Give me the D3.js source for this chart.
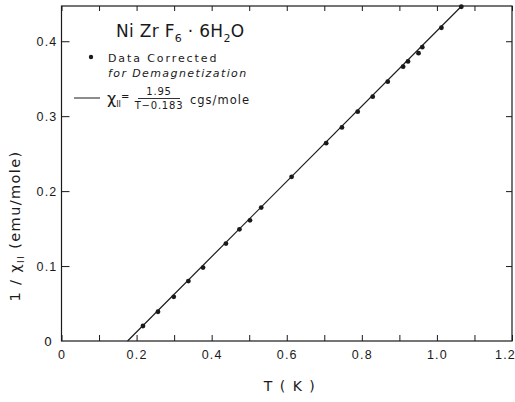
<!DOCTYPE html>
<html>
    <head>
        <meta charset="utf-8">
        <title>NiZrF6 susceptibility</title>
        <style>
body {
    margin: 0;
    background-color: white;
}

svg {
    font-family: 'DejaVu Sans', sans-serif;
}

text {
    fill: #1a1a1a;
}

.axis path {
    display: none;
}

.axis line {
    stroke: #1a1a1a;
    stroke-width: 1;
}

.axis text {
    font-size: 12.5px;
    letter-spacing: 1.2px;
}

</style>
        <script src="https://cdn.jsdelivr.net/npm/d3@7"></script>
    </head>
    <body>
        <script>
var tempK  = [0.217, 0.257, 0.299, 0.338, 0.377, 0.438, 0.474, 0.502, 0.532, 0.613,
              0.705, 0.747, 0.789, 0.829, 0.869, 0.910, 0.923, 0.951, 0.961, 1.012, 1.065];
var invChi = [0.020, 0.039, 0.059, 0.080, 0.098, 0.130, 0.149, 0.161, 0.178, 0.219,
              0.264, 0.285, 0.306, 0.326, 0.346, 0.366, 0.373, 0.384, 0.392, 0.418, 0.446];

// fitted curve ends, as drawn
var fitT = [0.176, 1.066];
var fitY = [0.0, 0.447];

var xTicks = [0, 0.1, 0.2, 0.3, 0.4, 0.5, 0.6, 0.7, 0.8, 0.9, 1.0, 1.1, 1.2];
var xLabels = ["0", "", "0.2", "", "0.4", "", "0.6", "", "0.8", "", "1.0", "", "1.2"];
var yTicks = [0.1, 0.2, 0.3, 0.4];
var yLabels = ["0.1", "0.2", "0.3", "0.4"];

var width = 515,
    height = 402;

var plotLeft = 61.5, plotRight = 512, plotTop = 6, plotBottom = 341;

var svg = d3.select('body')
    .append('svg')
    .attr('width', width)
    .attr('height', height);

var x = d3.scaleLinear().domain([0, 1.2]).range([plotLeft, plotRight]);
var y = d3.scaleLinear().domain([0, 0.447]).range([plotBottom, plotTop]);

// frame
svg.append('rect')
    .attr('x', plotLeft)
    .attr('y', plotTop)
    .attr('width', plotRight - plotLeft)
    .attr('height', plotBottom - plotTop)
    .style('fill', 'none')
    .style('stroke', '#1a1a1a')
    .style('stroke-width', 1.2);

var xAxis = svg.append('g')
    .attr('class', 'axis')
    .attr('transform', 'translate(0,' + plotBottom + ')')
    .call(d3.axisBottom(x)
        .tickValues(xTicks)
        .tickSize(-6)
        .tickPadding(9)
        .tickFormat(function (d, i) { return xLabels[i]; }));

// last label runs into the page edge, pull it in a little
xAxis.selectAll('.tick text')
    .filter(function (d) { return d > 1.15; })
    .attr('dx', -7);

svg.append('g')
    .attr('class', 'axis')
    .attr('transform', 'translate(0,' + plotTop + ')')
    .call(d3.axisTop(x)
        .tickValues(xTicks)
        .tickSize(-5)
        .tickFormat(''));

svg.append('g')
    .attr('class', 'axis')
    .attr('transform', 'translate(' + plotLeft + ',0)')
    .call(d3.axisLeft(y)
        .tickValues(yTicks)
        .tickSize(-8)
        .tickPadding(4)
        .tickFormat(function (d, i) { return yLabels[i]; }));

svg.append('g')
    .attr('class', 'axis')
    .attr('transform', 'translate(' + plotRight + ',0)')
    .call(d3.axisRight(y)
        .tickValues(yTicks)
        .tickSize(-6)
        .tickFormat(''));

// zero of the y axis sits apart from the x zero
svg.append('text')
    .attr('x', 48)
    .attr('y', y(0) + 5)
    .style('font-size', '12.5px')
    .style('text-anchor', 'middle')
    .text('0');

// fit line
svg.append('line')
    .attr('x1', x(fitT[0]))
    .attr('y1', y(fitY[0]))
    .attr('x2', x(fitT[1]))
    .attr('y2', y(fitY[1]))
    .style('stroke', '#1a1a1a')
    .style('stroke-width', 1.2);

// points
svg.append('g')
    .selectAll('circle')
    .data(tempK)
    .enter()
    .append('circle')
    .attr('cx', function (d) { return x(d); })
    .attr('cy', function (d, i) { return y(invChi[i]); })
    .attr('r', 2.4)
    .style('fill', '#1a1a1a');

// title
var title = svg.append('text')
    .attr('x', 116)
    .attr('y', 37)
    .style('font-size', '17px')
    .style('letter-spacing', '0.3px');
title.append('tspan').text('Ni Zr F');
title.append('tspan').attr('dy', 5).style('font-size', '11px').text('6');
title.append('tspan').attr('dy', -5).text(' · 6H');
title.append('tspan').attr('dy', 5).style('font-size', '11px').text('2');
title.append('tspan').attr('dy', -5).text('O');

// legend
svg.append('circle')
    .attr('cx', 91)
    .attr('cy', 57)
    .attr('r', 2.2)
    .style('fill', '#1a1a1a');

svg.append('text')
    .attr('x', 108)
    .attr('y', 62)
    .style('font-size', '11px')
    .style('letter-spacing', '1.9px')
    .text('Data  Corrected');

svg.append('text')
    .attr('x', 108)
    .attr('y', 77)
    .style('font-size', '11px')
    .style('font-style', 'italic')
    .style('letter-spacing', '1.4px')
    .text('for  Demagnetization');

svg.append('line')
    .attr('x1', 74)
    .attr('x2', 100)
    .attr('y1', 98)
    .attr('y2', 98)
    .style('stroke', '#1a1a1a')
    .style('stroke-width', 1);

var chi = svg.append('text')
    .attr('x', 107)
    .attr('y', 104)
    .style('font-size', '16px');
chi.append('tspan').text('χ');
chi.append('tspan').attr('dy', 3).style('font-size', '8px').text('II');
chi.append('tspan').attr('dy', -7).style('font-size', '10px').text('=');

svg.append('line')
    .attr('x1', 138)
    .attr('x2', 180)
    .attr('y1', 98.5)
    .attr('y2', 98.5)
    .style('stroke', '#1a1a1a')
    .style('stroke-width', 0.9);

svg.append('text')
    .attr('x', 159)
    .attr('y', 95)
    .style('font-size', '10px')
    .style('text-anchor', 'middle')
    .style('letter-spacing', '0.8px')
    .text('1.95');

svg.append('text')
    .attr('x', 159)
    .attr('y', 109)
    .style('font-size', '10px')
    .style('text-anchor', 'middle')
    .style('letter-spacing', '0.8px')
    .text('T−0.183');

svg.append('text')
    .attr('x', 190)
    .attr('y', 104)
    .style('font-size', '11.5px')
    .style('letter-spacing', '1px')
    .text('cgs/mole');

// axis titles
svg.append('text')
    .attr('x', 290)
    .attr('y', 391)
    .style('font-size', '14px')
    .style('text-anchor', 'middle')
    .style('letter-spacing', '1.5px')
    .text('T ( K )');

var yTitle = svg.append('text')
    .attr('transform', 'translate(20,226) rotate(-90)')
    .style('font-size', '14.5px')
    .style('text-anchor', 'middle')
    .style('letter-spacing', '1.4px');
yTitle.append('tspan').text('1 / χ');
yTitle.append('tspan').attr('dy', 4).style('font-size', '9px').text('II');
yTitle.append('tspan').attr('dy', -4).text('   (emu/mole)');

        </script>
    </body>
</html>
